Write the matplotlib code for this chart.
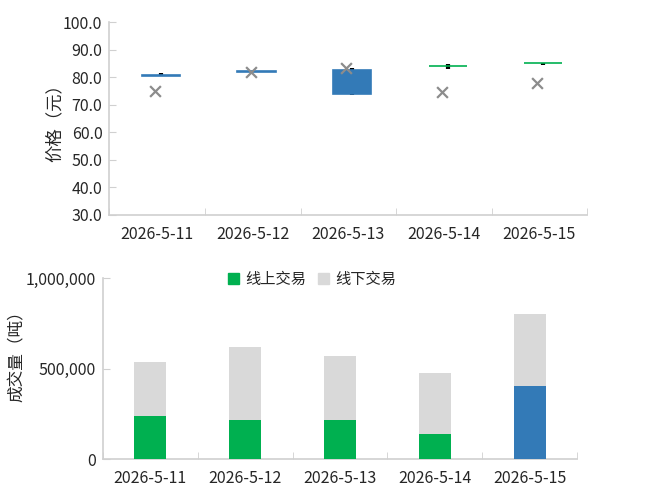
import numpy as np
import matplotlib.pyplot as plt
from matplotlib.patches import Patch
from matplotlib.ticker import FuncFormatter

plt.rcParams['font.family'] = ['Noto Sans CJK SC', 'DejaVu Sans']

dates = ['2026-5-11', '2026-5-12', '2026-5-13', '2026-5-14', '2026-5-15']

# price chart (open / close / high / low / average)
p_open = [80.4, 81.9, 73.9, 84.0, 85.05]
p_close = [80.9, 82.1, 82.6, 83.9, 85.0]
p_high = [81.5, 82.1, 83.3, 84.7, 85.0]
p_low = [80.4, 81.9, 73.6, 82.8, 84.4]
p_avg = [75.0, 82.0, 83.2, 74.5, 78.0]

# volume chart (tons)
vol_online = [241000, 217000, 217000, 140000, 405000]
vol_total = [537000, 620000, 570000, 477000, 803000]
vol_offline = [t - o for t, o in zip(vol_total, vol_online)]

blue = '#337ab7'
green = '#00b050'
grey = '#d9d9d9'
axcol = '#d0d0d0'
txt = '#262626'

fig = plt.figure(figsize=(6.59, 5.03), dpi=100)
ax1 = fig.add_axes([0.166, 0.573, 0.725, 0.383])
ax2 = fig.add_axes([0.156, 0.087, 0.720, 0.360])

x = np.arange(len(dates))

# top: stock style chart
for i in x:
    ax1.plot([i + 0.04, i + 0.04], [p_low[i], p_high[i]], color='black', lw=3,
             solid_capstyle='butt', zorder=2)
    up = p_close[i] >= p_open[i]
    c = blue if up else green
    lo = min(p_open[i], p_close[i])
    h = abs(p_close[i] - p_open[i])
    ax1.bar(i + 0.04, h, bottom=lo, width=0.4, color=c, edgecolor=c,
            linewidth=1.2, zorder=3)
ax1.scatter(x - 0.02, p_avg, marker='x', s=60, color='#8c8c8c', linewidths=1.6, zorder=4)

ax1.set_xlim(-0.5, 4.5)
ax1.set_ylim(30, 100)
ax1.set_yticks(np.arange(30, 101, 10))
ax1.yaxis.set_major_formatter(FuncFormatter(lambda v, p: '%.1f' % v))
ax1.set_xticks(x)
ax1.set_xticklabels(dates)
ax1.set_xticks(np.arange(-0.5, 4.6, 1), minor=True)

# bottom: stacked bars
ax2.bar(x[:4], vol_online[:4], width=0.34, color=green, zorder=3)
ax2.bar(x[4:], vol_online[4:], width=0.34, color=blue, zorder=3)
ax2.bar(x, vol_offline, bottom=vol_online, width=0.34, color=grey, zorder=3)
ax2.set_xlim(-0.5, 4.5)
ax2.set_ylim(0, 1000000)
ax2.set_yticks([0, 500000, 1000000])
ax2.yaxis.set_major_formatter(FuncFormatter(lambda v, p: '{:,.0f}'.format(v)))
ax2.set_xticks(x)
ax2.set_xticklabels(dates)
ax2.set_xticks(np.arange(-0.5, 4.6, 1), minor=True)

for ax in (ax1, ax2):
    for s in ('top', 'right'):
        ax.spines[s].set_visible(False)
    for s in ('left', 'bottom'):
        ax.spines[s].set_color(axcol)
        ax.spines[s].set_linewidth(1.2)
    ax.tick_params(axis='x', which='major', length=0, pad=8, labelsize=11.5, colors=txt)
    ax.tick_params(axis='x', which='minor', direction='in', length=5, color=axcol)
    ax.tick_params(axis='y', direction='in', length=5, color=axcol, labelsize=11.5,
                   colors=txt, pad=5)
    ax.tick_params(axis='y', labelcolor=txt)

fig.text(0.083, 0.765, '价格（元）', rotation=90, ha='center', va='center',
         fontsize=12.5, color=txt)
fig.text(0.027, 0.30, '成交量（吨）', rotation=90, ha='center', va='center',
         fontsize=12, color=txt)

handles = [Patch(color=green), Patch(color=grey)]
fig.legend(handles, ['线上交易', '线下交易'], loc='center', bbox_to_anchor=(0.474, 0.445),
           ncol=2, frameon=False, fontsize=11, handlelength=0.7, handleheight=0.7,
           handletextpad=0.4, columnspacing=0.8, labelcolor=txt)

fig.savefig('out.png', dpi=100)
